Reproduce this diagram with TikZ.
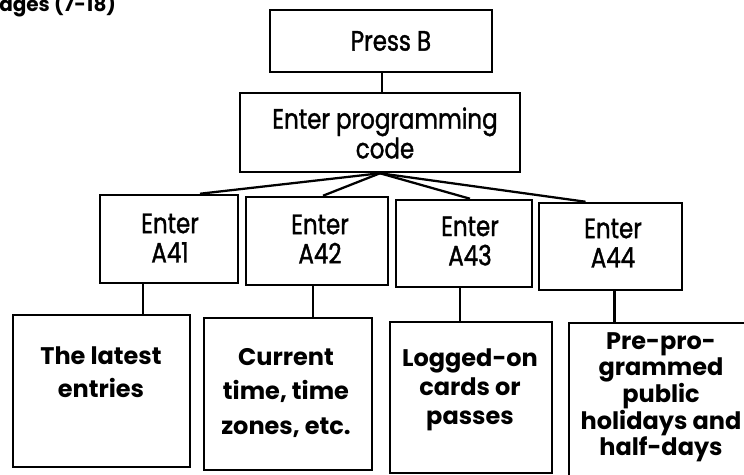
\documentclass[tikz,border=0pt]{standalone}
\usepackage{fontspec}
\setmainfont{Poppins}
\newfontfamily\topf[FakeStretch=0.82,FakeBold=1.3]{Poppins}
\usetikzlibrary{fit,calc}
\begin{document}
\begin{tikzpicture}[x=0.75pt,y=-0.75pt,
  box/.style={draw, line width=1.9pt, inner sep=0pt},
  conn/.style={line width=1.7pt},
  toptext/.style={font=\topf\fontsize{21}{22}\selectfont, align=center, inner sep=0pt},
  bottext/.style={font=\bfseries\fontsize{18}{26}\selectfont, align=center, inner sep=0pt, anchor=north}]
\useasboundingbox (0,0) rectangle (744,475);
\clip (0,0) rectangle (744,475);
% header fragment
\node[font=\bfseries\fontsize{15}{15}\selectfont, anchor=base west, inner sep=0pt] (hdr) at (-1,11) {ages (7-18)};
% boxes
\node[box, fit={(270,10) (492,72)}] (pb) {};
\node[box, fit={(240,93) (520,172)}] (prog) {};
\node[box, fit={(100,195) (238,283)}] (a41) {};
\node[box, fit={(246,197) (388,285)}] (a42) {};
\node[box, fit={(396,200) (532,287)}] (a43) {};
\node[box, fit={(539,203) (682,290)}] (a44) {};
\node[box, fit={(13,315) (190,467)}] (b1) {};
\node[box, fit={(204,318) (372,470)}] (b2) {};
\node[box, fit={(390,322) (552,473)}] (b3) {};
\node[box, fit={(569,323) (760,490)}] (b4) {};
% texts
\node[toptext] (pbt) at (391,41) {Press B};
\node[toptext, font=\topf\fontsize{21}{19}\selectfont] (progt) at (385,133) {Enter programming\\code};
\node[toptext] (a41t) at (170,238) {Enter\\A41};
\node[toptext] (a42t) at (320,239) {Enter\\A42};
\node[toptext] (a43t) at (470,241) {Enter\\A43};
\node[toptext] (a44t) at (613,243) {Enter\\A44};
\node[bottext, font=\bfseries\fontsize{18}{25}\selectfont] (b1t) at (101,346) {The latest\\entries};
\node[bottext, font=\bfseries\fontsize{18}{26}\selectfont] (b2t) at (286,348) {Current\\time, time\\zones, etc.};
\node[bottext, font=\bfseries\fontsize{18}{22}\selectfont] (b3t) at (470,348) {Logged-on\\cards or\\passes};
\node[bottext, font=\bfseries\fontsize{18}{20}\selectfont] (b4t) at (661,332) {Pre-pro-\\grammed\\public\\holidays and\\half-days};
% connectors
\draw[conn] (pb.south -| 382,0) -- (prog.north -| 382,0);
\draw[conn] (prog.south) -- ($(a41.north)+(31,0)$);
\draw[conn] (prog.south) -- ($(a42.north)+(6,0)$);
\draw[conn] (prog.south) -- ($(a43.north)+(6,0)$);
\draw[conn] (prog.south) -- ($(a44.north)+(-25,0)$);
\coordinate (c1) at ($(a41.south)+(-26,0)$);
\coordinate (c2) at ($(a42.south)+(-4,0)$);
\coordinate (c3) at ($(a43.south)+(-4,0)$);
\coordinate (c4) at ($(a44.south)+(4,0)$);
\draw[conn] (c1) -- (c1 |- b1.north);
\draw[conn] (c2) -- (c2 |- b2.north);
\draw[conn] (c3) -- (c3 |- b3.north);
\draw[conn] (c4) -- (c4 |- b4.north);
\end{tikzpicture}
\end{document}
